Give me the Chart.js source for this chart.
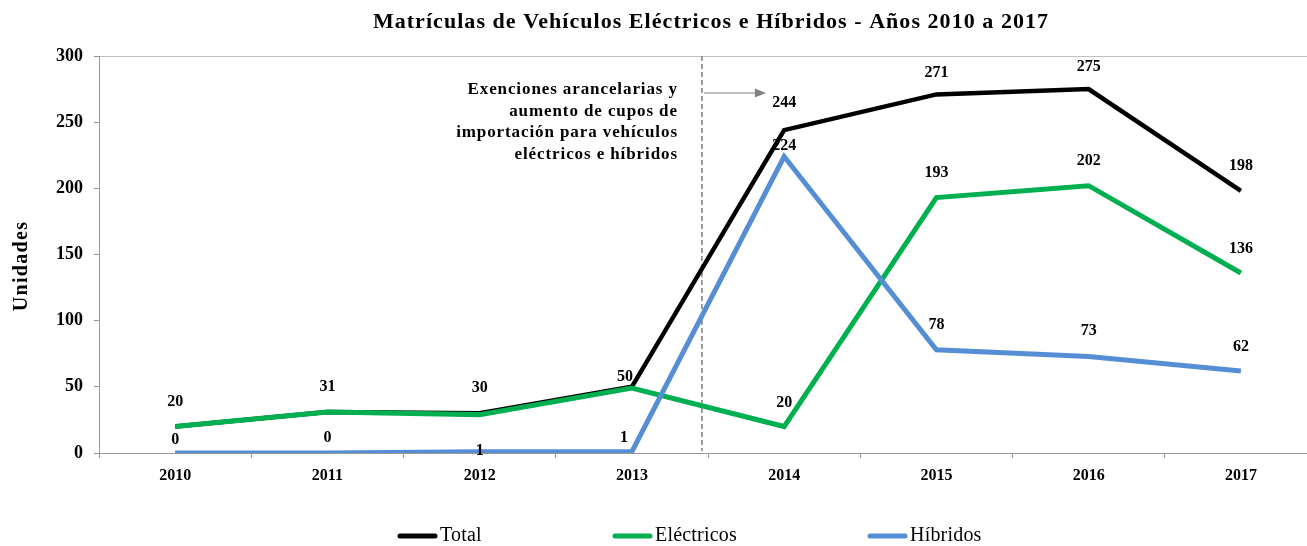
<!DOCTYPE html>
<html>
<head>
<meta charset="utf-8">
<script src="https://cdn.jsdelivr.net/npm/chart.js@4.4.1/dist/chart.umd.min.js"></script>
<style>
  html, body { margin: 0; padding: 0; background: #fff; overflow: hidden; }
  #wrap { width: 1320px; height: 546px; }
</style>
</head>
<body>
<div id="wrap"><canvas id="c" width="1320" height="546"></canvas></div>
<script>
// ---- data ----
const years = ['2010', '2011', '2012', '2013', '2014', '2015', '2016', '2017'];
const total = [20, 31, 30, 50, 244, 271, 275, 198];
const electricos = [20, 31, 29, 49, 20, 193, 202, 136];
const hibridos = [0, 0, 1, 1, 224, 78, 73, 62];
const yTickValues = [0, 50, 100, 150, 200, 250, 300];
const seriesNames = ['Total', 'Eléctricos', 'Híbridos'];
const titleText = 'Matrículas de Vehículos Eléctricos e Híbridos - Años 2010 a 2017';
const yAxisTitle = 'Unidades';
const noteLines = ['Exenciones arancelarias y', 'aumento de cupos de', 'importación para vehículos', 'eléctricos e híbridos'];

// ---- styles ----
const SERIF = '"Liberation Serif", "DejaVu Serif", serif';
const colors = { total: '#000000', elec: '#00B050', hib: '#558ED5' };
const labelStyle = {
  total: { show: [1,1,1,1,1,1,1,1], off: [[0,-25],[0,-25],[0,-25],[-7,-10],[0,-27],[0,-22],[0,-22],[0,-25]] },
  elec:  { show: [0,0,0,0,1,1,1,1], off: [[0,-25],[0,-25],[0,-25],[0,-25],[0,-24],[0,-25],[0,-25],[0,-24]] },
  hib:   { show: [1,1,1,1,1,1,1,1], off: [[0,-13],[0,-15],[0,-1],[-8,-14],[0,-11],[0,-25],[0,-26],[0,-24]] }
};

function setSpacing(ctx, px) { if ('letterSpacing' in ctx) ctx.letterSpacing = px + 'px'; }

const overlay = {
  id: 'overlay',
  beforeDatasetsDraw(chart) {
    const { ctx, chartArea, scales } = chart;
    const x = scales.x;
    const step = x.getPixelForValue(4) - x.getPixelForValue(3);
    const vx = x.getPixelForValue(3) + step * 0.46;
    ctx.save();
    ctx.strokeStyle = '#808080';
    ctx.lineWidth = 1.5;
    ctx.setLineDash([5, 3]);
    ctx.beginPath();
    ctx.moveTo(vx, chartArea.top);
    ctx.lineTo(vx, chartArea.bottom - 2);
    ctx.stroke();
    ctx.setLineDash([]);
    // arrow
    const ay = chartArea.top + 37;
    ctx.lineWidth = 1;
    ctx.beginPath();
    ctx.moveTo(vx + 2, ay);
    ctx.lineTo(vx + 54, ay);
    ctx.stroke();
    ctx.fillStyle = '#808080';
    ctx.beginPath();
    ctx.moveTo(vx + 64, ay);
    ctx.lineTo(vx + 53, ay - 4.5);
    ctx.lineTo(vx + 53, ay + 4.5);
    ctx.closePath();
    ctx.fill();
    // annotation text
    ctx.fillStyle = '#000';
    ctx.font = 'bold 17px ' + SERIF;
    setSpacing(ctx, 0.9);
    ctx.textAlign = 'right';
    ctx.textBaseline = 'middle';
    noteLines.forEach((t, i) => ctx.fillText(t, vx - 24, chartArea.top + 34 + i * 21.5));
    ctx.restore();
  },
  afterDatasetsDraw(chart) {
    const { ctx } = chart;
    const keys = ['total', 'elec', 'hib'];
    ctx.save();
    ctx.fillStyle = '#000';
    ctx.font = 'bold 16px ' + SERIF;
    ctx.textAlign = 'center';
    ctx.textBaseline = 'middle';
    keys.forEach((k, di) => {
      const meta = chart.getDatasetMeta(di);
      const ds = chart.data.datasets[di].data;
      meta.data.forEach((pt, j) => {
        if (!labelStyle[k].show[j]) return;
        const o = labelStyle[k].off[j];
        ctx.fillText(String(ds[j]), pt.x + o[0], pt.y + o[1]);
      });
    });
    ctx.restore();
  },
  afterDraw(chart) {
    const { ctx, chartArea } = chart;
    ctx.save();
    // title
    ctx.fillStyle = '#000';
    ctx.font = 'bold 22px ' + SERIF;
    setSpacing(ctx, 1.05);
    ctx.textAlign = 'center';
    ctx.textBaseline = 'middle';
    ctx.fillText(titleText, (chartArea.left + chartArea.right) / 2 + 3, 22);
    // y axis title
    ctx.save();
    ctx.translate(22, 266);
    ctx.rotate(-Math.PI / 2);
    ctx.font = 'bold 20px ' + SERIF;
    setSpacing(ctx, 1.3);
    ctx.fillText(yAxisTitle, 0, 0);
    ctx.restore();
    // legend
    const items = [
      { name: seriesNames[0], color: colors.total, x: 398 },
      { name: seriesNames[1], color: colors.elec, x: 613 },
      { name: seriesNames[2], color: colors.hib, x: 868 }
    ];
    const ly = 536;
    ctx.font = '20px ' + SERIF;
    setSpacing(ctx, 0.2);
    ctx.textAlign = 'left';
    items.forEach(it => {
      ctx.strokeStyle = it.color;
      ctx.lineWidth = 5;
      ctx.lineCap = 'round';
      ctx.beginPath();
      ctx.moveTo(it.x + 2, ly);
      ctx.lineTo(it.x + 37, ly);
      ctx.stroke();
      ctx.fillStyle = '#000';
      ctx.fillText(it.name, it.x + 42, ly);
    });
    ctx.restore();
  }
};

new Chart(document.getElementById('c'), {
  type: 'line',
  data: {
    labels: years,
    datasets: [
      { label: seriesNames[0], data: total, borderColor: colors.total, borderWidth: 4.5, order: 2 },
      { label: seriesNames[1], data: electricos, borderColor: colors.elec, borderWidth: 5, order: 1 },
      { label: seriesNames[2], data: hibridos, borderColor: colors.hib, borderWidth: 5, order: 0 }
    ]
  },
  options: {
    responsive: false,
    animation: false,
    layout: { padding: { top: 56, left: 0, right: 3, bottom: 53 } },
    elements: { point: { radius: 0, hoverRadius: 0 }, line: { tension: 0, fill: false, borderJoinStyle: 'miter' } },
    plugins: { legend: { display: false }, title: { display: false }, tooltip: { enabled: false } },
    scales: {
      x: {
        type: 'category',
        offset: true,
        grid: { offset: true, color: 'transparent', tickColor: '#999', tickLength: 5, drawOnChartArea: false },
        border: { color: '#999', width: 1 },
        ticks: { color: '#000', font: { family: SERIF, size: 16, weight: 'bold' }, padding: 8, maxRotation: 0 },
        afterFit(s) { s.height = 40; }
      },
      y: {
        min: 0, max: 300,
        afterBuildTicks(s) { s.ticks = yTickValues.map(v => ({ value: v })); },
        grid: { color: c => (c.tick && c.tick.value === 300 ? '#bfbfbf' : 'transparent'), tickColor: '#999', tickLength: 5 },
        border: { color: '#999', width: 1 },
        ticks: { color: '#000', font: { family: SERIF, size: 18, weight: 'bold' }, padding: 11 },
        title: { display: false, text: yAxisTitle },
        afterFit(s) { s.width = 99; }
      }
    }
  },
  plugins: [overlay]
});
</script>
</body>
</html>
